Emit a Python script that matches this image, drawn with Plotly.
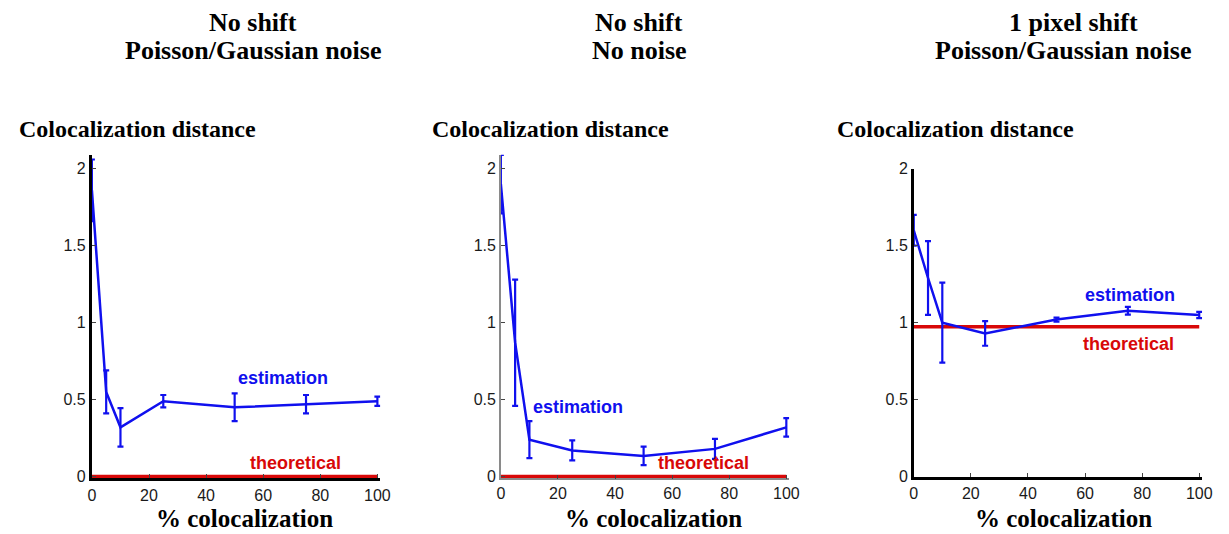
import plotly.graph_objects as go

W, H = 1229, 534

# ---------------- data ----------------
x_pct = [0, 5, 10, 25, 50, 75, 100]

est_noshift_noise = [1.86, 0.55, 0.32, 0.49, 0.45, 0.47, 0.49]
err_noshift_noise = [0.20, 0.14, 0.125, 0.04, 0.09, 0.06, 0.03]
theo_noshift_noise = 0.0

est_noshift_nonoise = [1.90, 0.87, 0.24, 0.17, 0.134, 0.18, 0.32]
err_noshift_nonoise = [0.19, 0.41, 0.12, 0.065, 0.06, 0.065, 0.06]
theo_noshift_nonoise = 0.0

est_shift_noise = [1.60, 1.29, 1.00, 0.93, 1.02, 1.077, 1.05]
err_shift_noise = [0.10, 0.24, 0.26, 0.08, 0.013, 0.025, 0.02]
theo_shift_noise = 0.973

x_theo = [0, 100]

panel_titles = [
    ["No shift", "Poisson/Gaussian noise"],
    ["No shift", "No noise"],
    ["1 pixel shift", "Poisson/Gaussian noise"],
]
y_title = "Colocalization distance"
x_title = "% colocalization"
x_ticks = [0, 20, 40, 60, 80, 100]
y_ticks = [0, 0.5, 1, 1.5, 2]
y_ticktext = ["0", "0.5", "1", "1.5", "2"]

BLUE = "#1010ee"
RED = "#d80808"

# ---------------- layout helpers ----------------
def px_x(p):
    return p / W

def px_y(p):
    return 1 - p / H

fig = go.Figure()

panels = [
    dict(est=est_noshift_noise, err=err_noshift_noise, theo=theo_noshift_noise,
         x0=89, ytop=151.7, yr=[-0.012, 2.09], ybot=485.9,
         ycol="black", ywid=3, xcol="black", xwid=3,
         est_lab=(67, 0.64), theo_lab=(71.3, 0.09),
         tcx=[251.7, 251.7], ylx=13, xlc=243),
    dict(est=est_noshift_nonoise, err=err_noshift_nonoise, theo=theo_noshift_nonoise,
         x0=503, ytop=151.7, yr=[-0.012, 2.09], ybot=485.9,
         ycol="#8a8a8a", ywid=1.5, xcol="#8a8a8a", xwid=1.5,
         est_lab=(26.9, 0.455), theo_lab=(71, 0.09),
         tcx=[643, 643], ylx=431.5, xlc=658),
    dict(est=est_shift_noise, err=err_shift_noise, theo=theo_shift_noise,
         x0=921, ytop=166, yr=[0, 2.0], ybot=484,
         ycol="black", ywid=2.5, xcol="black", xwid=2.5,
         est_lab=(75.6, 1.18), theo_lab=(75.3, 0.86),
         tcx=[1082.5, 1071.7], ylx=841.5, xlc=1072.5),
]

XR = [0, 101]
PX_PER_X = 2.89
TICKFONT = dict(family="Liberation Sans, Arial", size=16, color="#1a1a1a")

annotations = []
for i, p in enumerate(panels, start=1):
    xa = "x" if i == 1 else f"x{i}"
    ya = "y" if i == 1 else f"y{i}"
    xkey = "xaxis" if i == 1 else f"xaxis{i}"
    ykey = "yaxis" if i == 1 else f"yaxis{i}"

    fig.add_trace(go.Scatter(
        x=x_theo, y=[p["theo"], p["theo"]], mode="lines",
        line=dict(color=RED, width=3.5), xaxis=xa, yaxis=ya,
        showlegend=False, hoverinfo="skip"))
    fig.add_trace(go.Scatter(
        x=x_pct, y=p["est"], mode="lines",
        line=dict(color=BLUE, width=2.5),
        error_y=dict(type="data", array=p["err"], visible=True,
                     color=BLUE, thickness=2.2, width=3),
        xaxis=xa, yaxis=ya, showlegend=False))

    x0 = p["x0"]
    x1 = x0 + (XR[1] - XR[0]) * PX_PER_X
    fig.update_layout(**{
        xkey: dict(domain=[px_x(x0), px_x(x1)], range=XR, anchor=ya,
                   tickvals=x_ticks, ticks="inside", ticklen=4, tickwidth=1,
                   tickcolor="#444", showline=True, linecolor=p["xcol"],
                   linewidth=p["xwid"], showgrid=False, zeroline=False,
                   tickfont=TICKFONT),
        ykey: dict(domain=[px_y(p["ybot"]), px_y(p["ytop"])], range=p["yr"], anchor=xa,
                   tickvals=y_ticks, ticktext=y_ticktext, ticks="inside", ticklen=4,
                   tickwidth=1, tickcolor="#444", showline=True, linecolor=p["ycol"],
                   linewidth=p["ywid"], showgrid=False, zeroline=False,
                   tickfont=TICKFONT),
    })

    lab = dict(family="Liberation Sans, Arial", size=18)
    annotations.append(dict(x=p["est_lab"][0], y=p["est_lab"][1], xref=xa, yref=ya,
                            text="<b>estimation</b>", showarrow=False,
                            font=dict(color=BLUE, **lab)))
    annotations.append(dict(x=p["theo_lab"][0], y=p["theo_lab"][1], xref=xa, yref=ya,
                            text="<b>theoretical</b>", showarrow=False,
                            font=dict(color=RED, **lab)))

    serif = "Liberation Serif, Times New Roman, serif"
    for line_txt, cx, cy in zip(panel_titles[i - 1], p["tcx"], [15.0, 44.0]):
        annotations.append(dict(x=px_x(cx), y=px_y(cy), xref="paper", yref="paper",
                                text=f"<b>{line_txt}</b>", showarrow=False,
                                xanchor="center", yanchor="middle",
                                font=dict(family=serif, size=26, color="black")))
    annotations.append(dict(x=px_x(p["ylx"]), y=px_y(125), xref="paper", yref="paper",
                            text=f"<b>{y_title}</b>", showarrow=False,
                            xanchor="left", yanchor="middle",
                            font=dict(family=serif, size=24, color="black")))
    annotations.append(dict(x=px_x(p["xlc"]), y=px_y(527), xref="paper", yref="paper",
                            text=f"<b>{x_title}</b>", showarrow=False,
                            xanchor="center", yanchor="middle",
                            font=dict(family=serif, size=25, color="black")))

fig.update_layout(width=W, height=H, margin=dict(l=0, r=0, t=0, b=0),
                  paper_bgcolor="white", plot_bgcolor="white",
                  annotations=annotations)

fig.write_html("out.html", config={"displayModeBar": False},
               post_script="document.body.style.margin='0';")
